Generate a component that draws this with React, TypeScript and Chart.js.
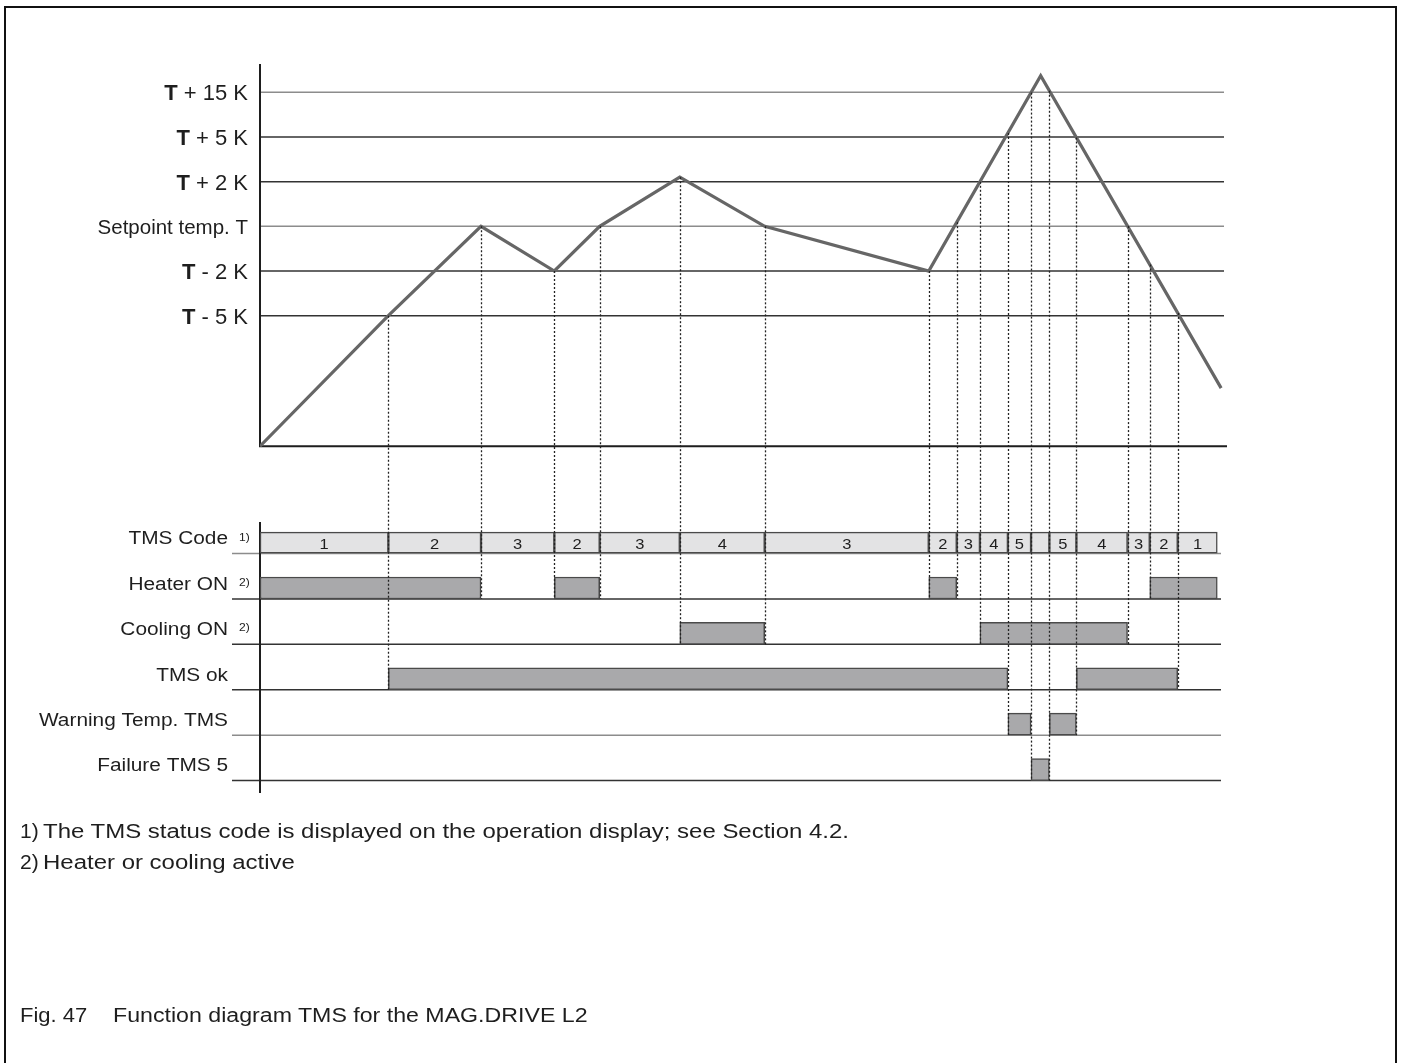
import React, { useEffect, useRef } from 'react';
import { Chart, registerables } from 'chart.js';

Chart.register(...registerables);

// ---------- data ----------
const LEVEL_VALUES = [1, 2, 3, 4, 5, 6];
const LEVEL_BOLD = ['T', 'T', '', 'T', 'T', 'T'];
const LEVEL_TEXT = [' - 5 K', ' - 2 K', 'Setpoint temp. T', ' + 2 K', ' + 5 K', ' + 15 K'];
const LEVEL_IS_LIGHT = [false, false, true, false, false, true];
const TEMP_FLOOR = -1.92;

const TEMP_TIMES = [0, 13.3, 22.9, 30.5, 35.2, 43.5, 52.3, 69.3, 80.9, 99.6];
const TEMP_LEVELS = [-1.92, 1, 3, 2, 3, 4.1, 3, 2, 6.37, -0.62];

const ROW_LABELS = ['TMS Code', 'Heater ON', 'Cooling ON', 'TMS ok', 'Warning Temp. TMS', 'Failure TMS 5'];
const ROW_NOTES = ['1)', '2)', '2)', '', '', ''];
const ROW_IS_LIGHT = [true, false, false, false, true, false];

const CODE_BOUNDS = [0, 13.3, 22.9, 30.5, 35.2, 43.5, 52.3, 69.3, 72.2, 74.6, 77.5, 79.9, 81.8, 84.6, 89.9, 92.2, 95.1, 99.2];
const CODE_VALUES = ['1', '2', '3', '2', '3', '4', '3', '2', '3', '4', '5', '', '5', '4', '3', '2', '1'];

const HEATER_ON = [[0, 22.9], [30.5, 35.2], [69.3, 72.2], [92.2, 99.2]];
const COOLING_ON = [[43.5, 52.3], [74.6, 89.9]];
const TMS_OK = [[13.3, 77.5], [84.6, 95.1]];
const WARNING_TEMP = [[77.5, 79.9], [81.8, 84.6]];
const FAILURE_TMS5 = [[79.9, 81.8]];

const FOOTNOTE_MARKS = ['1)', '2)'];
const FOOTNOTES = [
  'The TMS status code is displayed on the operation display; see Section 4.2.',
  'Heater or cooling active',
];
const CAPTION_NUM = 'Fig. 47';
const CAPTION_TEXT = 'Function diagram TMS for the MAG.DRIVE L2';

// ---------- derived ----------
const CODE_SPANS = CODE_VALUES.map((_, i) => [CODE_BOUNDS[i], CODE_BOUNDS[i + 1]]);
const ROW_SPANS = [CODE_SPANS, HEATER_ON, COOLING_ON, TMS_OK, WARNING_TEMP, FAILURE_TMS5];
const EVENT_TIMES = CODE_BOUNDS.slice(1, -1);

const FONT = '"Liberation Sans", Arial, Helvetica, sans-serif';
const TEXT_COLOR = '#1e1e1e';
const BAR_FILL = '#a9a9ab';
const BAR_EDGE = '#4a4a4a';
const CODE_FILL = '#e3e3e4';
const ROW_HALF = 11;

function drawStretched(ctx: CanvasRenderingContext2D, text: string, x: number, y: number,
  align: CanvasTextAlign, font: string, sx: number) {
  ctx.save();
  ctx.font = font;
  ctx.fillStyle = TEXT_COLOR;
  ctx.textBaseline = 'middle';
  ctx.textAlign = align;
  ctx.translate(x, y);
  ctx.scale(sx, 1);
  ctx.fillText(text, 0, 0);
  ctx.restore();
}

function levelAt(t: number) {
  for (let i = 0; i < TEMP_TIMES.length - 1; i++) {
    const a = TEMP_TIMES[i], b = TEMP_TIMES[i + 1];
    if (t >= a && t <= b) {
      const f = (t - a) / (b - a);
      return TEMP_LEVELS[i] + f * (TEMP_LEVELS[i + 1] - TEMP_LEVELS[i]);
    }
  }
  return TEMP_LEVELS[TEMP_LEVELS.length - 1];
}

function deepestRow(t: number) {
  let deepest = 0;
  ROW_SPANS.forEach((spans, r) => {
    spans.forEach(([a, b]) => {
      if (Math.abs(a - t) < 0.05 || Math.abs(b - t) < 0.05) deepest = Math.max(deepest, r);
    });
  });
  return deepest;
}

const diagramPlugin = {
  id: 'diagram',
  beforeDatasetsDraw(chart: any) {
    const ctx: CanvasRenderingContext2D = chart.ctx;
    const xS = chart.scales.x, yS = chart.scales.y, rS = chart.scales.rows;
    const area = chart.chartArea;
    const x0 = xS.getPixelForValue(0);
    ctx.save();
    // level lines
    LEVEL_VALUES.forEach((v, i) => {
      const y = yS.getPixelForValue(v);
      ctx.strokeStyle = LEVEL_IS_LIGHT[i] ? '#8c8c8c' : '#333';
      ctx.lineWidth = 1.5;
      ctx.beginPath();
      ctx.moveTo(x0, y);
      ctx.lineTo(area.right - 1, y);
      ctx.stroke();
    });
    // upper axes
    const yFloor = yS.getPixelForValue(TEMP_FLOOR);
    ctx.strokeStyle = '#1e1e1e';
    ctx.lineWidth = 2;
    ctx.beginPath();
    ctx.moveTo(x0, area.top);
    ctx.lineTo(x0, yFloor);
    ctx.lineTo(area.right + 2, yFloor);
    ctx.stroke();
    // row baselines
    ROW_LABELS.forEach((_, r) => {
      const y = rS.getPixelForValue(r) + ROW_HALF;
      ctx.strokeStyle = ROW_IS_LIGHT[r] ? '#8c8c8c' : '#333';
      ctx.lineWidth = 1.5;
      ctx.beginPath();
      ctx.moveTo(x0 - 28, y);
      ctx.lineTo(area.right - 4, y);
      ctx.stroke();
    });
    // lower axis
    ctx.strokeStyle = '#1e1e1e';
    ctx.lineWidth = 2;
    ctx.beginPath();
    ctx.moveTo(x0, rS.getPixelForValue(-0.45));
    ctx.lineTo(x0, area.bottom - 2);
    ctx.stroke();
    ctx.restore();
  },
  afterDatasetsDraw(chart: any) {
    const ctx: CanvasRenderingContext2D = chart.ctx;
    const xS = chart.scales.x, yS = chart.scales.y, rS = chart.scales.rows;
    const x0 = xS.getPixelForValue(0);
    ctx.save();
    // dotted event lines
    ctx.strokeStyle = '#222';
    ctx.lineWidth = 1.3;
    ctx.setLineDash([2, 2]);
    EVENT_TIMES.forEach((t) => {
      const x = Math.round(xS.getPixelForValue(t)) + 0.5;
      const yTop = yS.getPixelForValue(levelAt(t));
      const yBot = rS.getPixelForValue(deepestRow(t)) + ROW_HALF;
      ctx.beginPath();
      ctx.moveTo(x, yTop);
      ctx.lineTo(x, yBot);
      ctx.stroke();
    });
    ctx.setLineDash([]);
    // code numbers
    CODE_VALUES.forEach((c, i) => {
      if (!c) return;
      const xm = (xS.getPixelForValue(CODE_BOUNDS[i]) + xS.getPixelForValue(CODE_BOUNDS[i + 1])) / 2;
      drawStretched(ctx, c, xm, rS.getPixelForValue(0) + 2, 'center', `15px ${FONT}`, 1.1);
    });
    // level labels
    const labelRight = x0 - 12;
    LEVEL_VALUES.forEach((v, i) => {
      const y = yS.getPixelForValue(v) + 2;
      const size = LEVEL_BOLD[i] ? 22 : 20.5;
      const normal = `${size}px ${FONT}`;
      const bold = `bold ${size}px ${FONT}`;
      drawStretched(ctx, LEVEL_TEXT[i], labelRight, y, 'right', normal, 1);
      if (LEVEL_BOLD[i]) {
        ctx.save();
        ctx.font = normal;
        const w = ctx.measureText(LEVEL_TEXT[i]).width;
        ctx.restore();
        drawStretched(ctx, LEVEL_BOLD[i], labelRight - w, y, 'right', bold, 1);
      }
    });
    // row labels
    ROW_LABELS.forEach((lab, r) => {
      const y = rS.getPixelForValue(r) - 3;
      drawStretched(ctx, lab, x0 - 32, y, 'right', `17.5px ${FONT}`, 1.19);
      if (ROW_NOTES[r]) {
        drawStretched(ctx, ROW_NOTES[r], x0 - 21, y - 2, 'left', `11px ${FONT}`, 1.1);
      }
    });
    ctx.restore();
  },
};

function rowDataset(spans: number[][], row: number, fill: string, thickness: number) {
  return {
    type: 'bar',
    indexAxis: 'y',
    xAxisID: 'x',
    yAxisID: 'rows',
    data: spans.map(([a, b]) => ({ x: [a, b], y: row })),
    backgroundColor: fill,
    borderColor: BAR_EDGE,
    borderWidth: 1.5,
    borderSkipped: false,
    barThickness: thickness,
    grouped: false,
  };
}

export default function App() {
  const ref = useRef<HTMLCanvasElement>(null);
  useEffect(() => {
    const canvas = ref.current;
    if (!canvas) return;
    const chart = new Chart(canvas, {
      type: 'bar',
      data: {
        datasets: [
          {
            type: 'line',
            xAxisID: 'x',
            yAxisID: 'y',
            data: TEMP_TIMES.map((x, i) => ({ x, y: TEMP_LEVELS[i] })),
            borderColor: '#666666',
            borderWidth: 3.2,
            pointRadius: 0,
            tension: 0,
            fill: false,
          },
          rowDataset(CODE_SPANS, 0, CODE_FILL, 21),
          rowDataset(HEATER_ON, 1, BAR_FILL, 22),
          rowDataset(COOLING_ON, 2, BAR_FILL, 22),
          rowDataset(TMS_OK, 3, BAR_FILL, 22),
          rowDataset(WARNING_TEMP, 4, BAR_FILL, 22),
          rowDataset(FAILURE_TMS5, 5, BAR_FILL, 22),
        ] as any,
      },
      options: {
        responsive: false,
        devicePixelRatio: 1,
        animation: false,
        layout: { padding: { left: 260, right: 178, top: 64, bottom: 268 } },
        plugins: { legend: { display: false }, tooltip: { enabled: false }, title: { display: false } },
        events: [],
        scales: {
          x: { type: 'linear', min: 0, max: 100, display: false, offset: false },
          y: { type: 'linear', axis: 'y', position: 'left', min: -9.727, max: 6.633, display: false, offset: false },
          rows: { type: 'linear', axis: 'y', position: 'left', min: -10.54, max: 5.56, reverse: true, display: false, offset: false },
        },
      } as any,
      plugins: [diagramPlugin],
    } as any);
    return () => chart.destroy();
  }, []);

  const textStyle: React.CSSProperties = {
    position: 'absolute', fontSize: 20, lineHeight: '22px', whiteSpace: 'nowrap', color: TEXT_COLOR,
    fontFamily: FONT, transformOrigin: 'left top',
  };
  const noteTops = [820, 851];
  return (
    <div style={{ position: 'absolute', left: 0, top: 0, width: 1403, height: 1063, overflow: 'hidden', background: '#fff' }}>
      <div style={{ position: 'absolute', left: 4, top: 6, width: 1389, height: 1200, border: '2px solid #111' }} />
      <canvas ref={ref} width={1403} height={1063} style={{ position: 'absolute', left: 0, top: 0, width: 1403, height: 1063 }} />
      {FOOTNOTES.map((t, i) => (
        <React.Fragment key={i}>
          <div style={{ ...textStyle, left: 20, top: noteTops[i], transform: 'scaleX(1.05)' }}>{FOOTNOTE_MARKS[i]}</div>
          <div style={{ ...textStyle, left: 43, top: noteTops[i], transform: 'scaleX(1.199)' }}>{t}</div>
        </React.Fragment>
      ))}
      <div style={{ ...textStyle, left: 20, top: 1004, transform: 'scaleX(1.1)' }}>{CAPTION_NUM}</div>
      <div style={{ ...textStyle, left: 113, top: 1004, transform: 'scaleX(1.158)' }}>{CAPTION_TEXT}</div>
    </div>
  );
}
